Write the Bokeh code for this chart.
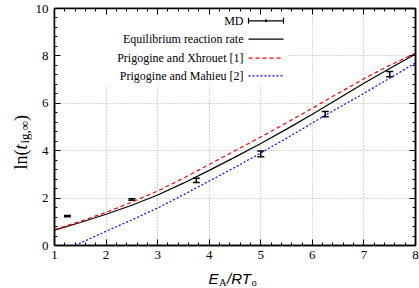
import math
from bokeh.plotting import figure
from bokeh.layouts import column, row
from bokeh.models import (ColumnDataSource, Whisker, TeeHead, Label, Arrow, BoxAnnotation,
                          LinearAxis, SingleIntervalTicker, Range1d)
from bokeh.embed import file_html
from bokeh.resources import INLINE

# ---------------- data ----------------
ea_grid = [1.0, 1.5, 2.0, 2.5, 3.0, 3.5, 4.0, 4.5, 5.0, 5.5, 6.0, 6.5, 7.0, 7.5, 8.0]
eq_rate = [0.65, 0.97, 1.32, 1.70, 2.13, 2.63, 3.17, 3.73, 4.30, 4.91, 5.54, 6.19, 6.85, 7.47, 8.08]
xhrouet = [0.67, 1.02, 1.40, 1.83, 2.30, 2.84, 3.42, 4.00, 4.58, 5.18, 5.79, 6.42, 7.04, 7.60, 8.12]
mahieu_x = [1.4, 1.5, 2.0, 2.5, 3.0, 3.5, 4.0, 4.5, 5.0, 5.5, 6.0, 6.5, 7.0, 7.5, 8.0]
mahieu = [0.0, 0.10, 0.60, 1.08, 1.58, 2.14, 2.72, 3.30, 3.90, 4.53, 5.17, 5.80, 6.42, 7.06, 7.70]

md_x = [1.25, 2.5, 3.75, 5.0, 6.25, 7.5]
md_y = [1.24, 1.94, 2.75, 3.87, 5.54, 7.23]
md_err = [0.03, 0.03, 0.09, 0.12, 0.11, 0.11]

x_ticks = [1, 2, 3, 4, 5, 6, 7, 8]
y_ticks = [0, 2, 4, 6, 8, 10]
legend_labels = ["MD", "Equilibrium reaction rate",
                 "Prigogine and Xhrouet [1]", "Prigogine and Mahieu [2]"]

# ---------------- layout ----------------
TOTAL_W, TOTAL_H = 419, 288
LW = 32            # strip holding the y title
MH = 266           # height of the main plot
BW = TOTAL_W       # strip holding the x title
BH = TOTAL_H - MH

MW = TOTAL_W - LW
BL, BR, BT, BB = 21, 4, 8, 21
FW = MW - BL - BR
FH = MH - BT - BB

SERIF = "Liberation Serif"
SANS = "Liberation Sans"

p = figure(width=MW, height=MH, x_range=Range1d(x_ticks[0], x_ticks[-1]),
           y_range=Range1d(y_ticks[0], y_ticks[-1]), title=None,
           output_backend="svg", toolbar_location=None,
           min_border_left=BL, min_border_right=BR, min_border_top=BT, min_border_bottom=BB)
p.outline_line_color = "black"
p.outline_line_width = 1.5
p.background_fill_color = "white"
p.border_fill_color = "white"

xt = SingleIntervalTicker(interval=1, num_minor_ticks=5)
yt = SingleIntervalTicker(interval=2, num_minor_ticks=5)
p.xaxis.ticker = xt
p.yaxis.ticker = yt

for ax in (p.xaxis[0], p.yaxis[0]):
    ax.major_tick_in = 6
    ax.major_tick_out = 0
    ax.minor_tick_in = 3
    ax.minor_tick_out = 0
    ax.major_tick_line_color = "black"
    ax.minor_tick_line_color = "black"
    ax.axis_line_color = "black"
    ax.axis_line_width = 1.5
    ax.major_label_text_font = SERIF
    ax.major_label_text_font_size = "13px"
    ax.major_label_text_color = "black"
p.xaxis.major_label_standoff = 5
p.yaxis.major_label_standoff = 6

# mirrored tick marks on top and right (no labels)
for loc, tk in (("above", xt), ("right", yt)):
    ax = LinearAxis(ticker=tk, major_tick_in=6, major_tick_out=0, minor_tick_in=3,
                    minor_tick_out=0, major_label_text_font_size="1px",
                    major_label_text_color=None, major_label_standoff=0,
                    axis_line_color="black", axis_line_width=1.5,
                    major_tick_line_color="black", minor_tick_line_color="black")
    p.add_layout(ax, loc)

for g in (p.xgrid[0], p.ygrid[0]):
    g.grid_line_color = "#b0b0b0"
    g.grid_line_dash = "1 2"
    g.grid_line_width = 1

# ---------------- legend background (covers grid) ----------------
p.add_layout(BoxAnnotation(left=0, right=233, bottom=FH - 77, top=FH,
                           left_units="screen", right_units="screen",
                           bottom_units="screen", top_units="screen",
                           fill_color="white", fill_alpha=1, line_color=None,
                           level="underlay"))

# ---------------- series ----------------
p.line(ea_grid, eq_rate, line_color="black", line_width=1.2)
p.line(ea_grid, xhrouet, line_color="red", line_width=1.2, line_dash="4 3")
p.line(mahieu_x, mahieu, line_color="blue", line_width=1.2, line_dash="2 2")

src = ColumnDataSource(dict(x=md_x, lo=[y - e for y, e in zip(md_y, md_err)],
                            hi=[y + e for y, e in zip(md_y, md_err)]))
p.add_layout(Whisker(source=src, base="x", lower="lo", upper="hi", dimension="height",
                     line_color="black", line_width=1.5,
                     upper_head=TeeHead(size=7, line_width=1.5, line_color="black"),
                     lower_head=TeeHead(size=7, line_width=1.5, line_color="black")))

# ---------------- legend (gnuplot style: text right, sample on the right) ----------------
row_d = [12.3, 30.7, 49.7, 67.3]
text_right = 189
s0, s1 = 194, 229
for lab, d in zip(legend_labels, row_d):
    p.add_layout(Label(x=text_right, y=FH - d, x_units="screen", y_units="screen",
                       text=lab, text_align="right", text_baseline="middle",
                       text_font=SERIF, text_font_size="12px", text_color="black"))

lsrc = ColumnDataSource(dict(b=[FH - row_d[0]], l=[s0], u=[s1]))
p.add_layout(Whisker(source=lsrc, base="b", lower="l", upper="u", dimension="width",
                     base_units="screen", lower_units="screen", upper_units="screen",
                     line_color="black", line_width=1.2,
                     upper_head=TeeHead(size=6, line_width=1.2, line_color="black"),
                     lower_head=TeeHead(size=6, line_width=1.2, line_color="black")))
p.add_layout(Arrow(x_start=(s0 + s1) / 2, x_end=(s0 + s1) / 2,
                   y_start=FH - row_d[0] - 1.2, y_end=FH - row_d[0] + 1.2,
                   start_units="screen", end_units="screen", end=None,
                   line_color="black", line_width=2))
for d, col, dash in ((row_d[1], "black", "solid"), (row_d[2], "red", "4 3"),
                     (row_d[3], "blue", "2 2")):
    p.add_layout(Arrow(x_start=s0, x_end=s1, y_start=FH - d, y_end=FH - d,
                       start_units="screen", end_units="screen", end=None,
                       line_color=col, line_width=1.2, line_dash=dash))


def strip(w, h):
    f = figure(frame_width=w, frame_height=h, x_range=Range1d(0, w), y_range=Range1d(0, h),
               title=None, output_backend="svg", toolbar_location=None,
               x_axis_location=None, y_axis_location=None,
               min_border=0, min_border_left=0, min_border_right=0,
               min_border_top=0, min_border_bottom=0)
    f.outline_line_color = None
    f.grid.visible = False
    f.background_fill_color = "white"
    f.border_fill_color = "white"
    return f


# ---------------- y axis title: ln(t_ig,inf) ----------------
yfig = strip(LW, MH)
yb = 20
y0 = 105
yparts = [("ln(", "normal", "18px", 0, 0),
          ("t", "italic", "18px", 20.0, 0),
          ("ig,\u221e", "normal", "13px", 26.0, 4),
          (")", "normal", "18px", 48.6, 0)]
for t, st, sz, dy, dx in yparts:
    yfig.add_layout(Label(x=yb + dx, y=y0 + dy, angle=math.pi / 2, text=t,
                          text_font=SERIF, text_font_style=st, text_font_size=sz,
                          text_align="left", text_baseline="alphabetic",
                          text_color="black"))

# ---------------- x axis title: E_A / R T_o ----------------
xfig = strip(BW, BH)
x0 = 208
parts = [("E", SANS, "italic", "15px", 0, 10.5),
         ("A", SERIF, "normal", "10.5px", 10.5, 6.3),
         ("/RT", SANS, "italic", "15px", 18.5, 10.5),
         ("o", SERIF, "normal", "10.5px", 43.0, 6.3)]
for t, f, st, sz, dx, ym in parts:
    xfig.add_layout(Label(x=x0 + dx, y=ym, text=t, text_font=f,
                          text_font_style=st, text_font_size=sz,
                          text_align="left", text_baseline="middle",
                          text_color="black"))

layout = column(row(yfig, p), xfig)
open("out.html", "w").write(file_html(layout, INLINE))
